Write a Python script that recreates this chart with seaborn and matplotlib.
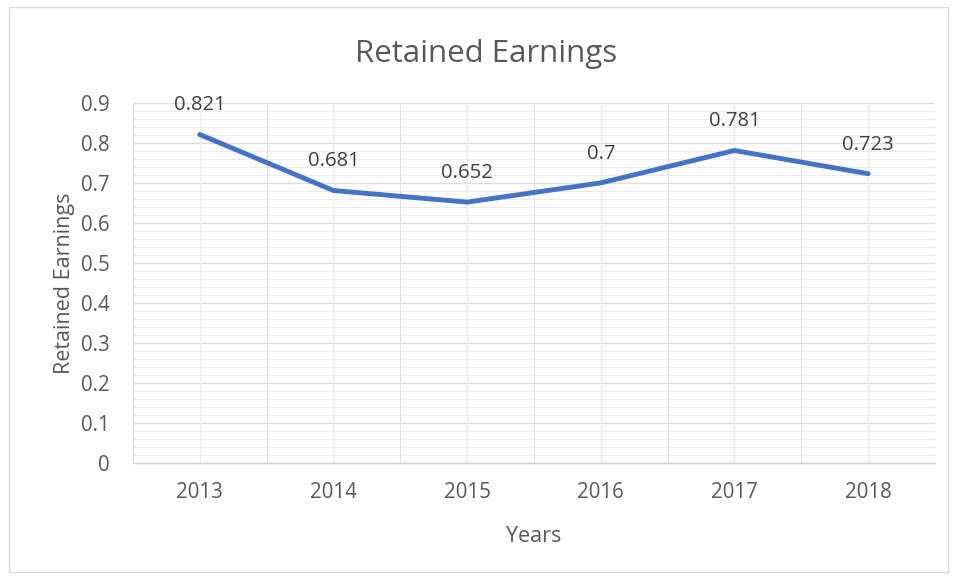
import matplotlib
matplotlib.use("Agg")
import matplotlib.pyplot as plt
import seaborn as sns
import numpy as np
import pandas as pd
from matplotlib.patches import Rectangle

years = [2013, 2014, 2015, 2016, 2017, 2018]
retained = [0.821, 0.681, 0.652, 0.7, 0.781, 0.723]
y_ticks = [0, 0.1, 0.2, 0.3, 0.4, 0.5, 0.6, 0.7, 0.8, 0.9]

sns.set_theme(style="white")
plt.rcParams["font.family"] = ["Open Sans", "DejaVu Sans"]

df = pd.DataFrame({"Years": years, "Retained Earnings": retained})

fig = plt.figure(figsize=(9.56, 5.78), dpi=100)
ax = fig.add_axes([0.139, 0.199, 0.839, 0.623])

# light horizontal grid: minor every 0.02, major every 0.1
for v in np.arange(0.02, 0.9001, 0.02):
    ax.axhline(v, color="#EBEBEB", lw=0.8, zorder=0)
for v in y_ticks[1:]:
    ax.axhline(v, color="#DCDCDC", lw=0.9, zorder=0)
# vertical grid at category centres and boundaries
for i in range(len(years)):
    ax.axvline(years[i], color="#EBEBEB", lw=0.8, zorder=0)
    ax.axvline(years[i] - 0.5, color="#E2E2E2", lw=0.8, zorder=0)
ax.axvline(years[-1] + 0.5, color="#E2E2E2", lw=0.8, zorder=0)

sns.lineplot(data=df, x="Years", y="Retained Earnings", ax=ax,
             color="#4472C4", lw=3.5, solid_capstyle="round", zorder=3)

for x, y in zip(years, retained):
    ax.annotate(f"{y:g}", (x, y), xytext=(0, 21), textcoords="offset points",
                ha="center", va="center", fontsize=14.6, color="#404040")

ax.set_xlim(years[0] - 0.5, years[-1] + 0.5)
ax.set_ylim(0, 0.9)
ax.set_xticks(years)
ax.set_xticklabels([str(y) for y in years])
ax.set_yticks(y_ticks)
ax.set_yticklabels([f"{t:g}" for t in y_ticks])
ax.tick_params(axis="both", length=0, labelsize=14.8, colors="#595959")
ax.tick_params(axis="x", pad=14)
ax.tick_params(axis="y", pad=17)

for s in ["top", "right", "left"]:
    ax.spines[s].set_visible(False)
ax.spines["bottom"].set_color("#D0D0D0")
ax.spines["bottom"].set_linewidth(1.0)

ax.set_xlabel("Years", fontsize=15.5, color="#595959", labelpad=16)
ax.set_ylabel("Retained Earnings", fontsize=15.5, color="#595959", labelpad=4)

fig.text(0.508, 0.907, "Retained Earnings", ha="center", va="center",
         fontsize=22.5, color="#595959")

fig.patches.append(Rectangle((0.009, 0.01), 0.983, 0.978, transform=fig.transFigure,
                             fill=False, edgecolor="#D9D9D9", lw=1.0))

fig.savefig("out.png", dpi=100)
